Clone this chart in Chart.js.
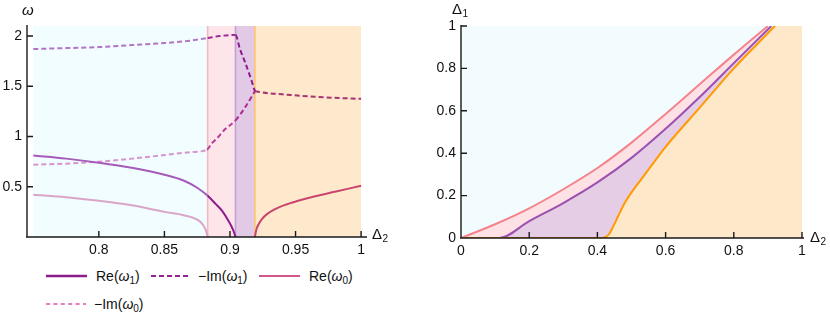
<!DOCTYPE html>
<html>
<head>
<meta charset="utf-8">
<script src="https://cdn.jsdelivr.net/npm/chart.js@4.4.0/dist/chart.umd.min.js"></script>
<style>
    body { margin: 0; background: #fff; width: 830px; height: 321px; overflow: hidden; font-family: 'Liberation Sans', Arial, sans-serif; color: #111; }
    .box { position: absolute; top: 0; width: 415px; height: 262px; }
    .lg-line { position: absolute; width: 42px; height: 6px; }
    .lg-text { position: absolute; font-size: 14px; line-height: 16px; white-space: nowrap; }
    .lg-text sub { font-size: 10px; vertical-align: -3px; line-height: 0; }
</style>
</head>
<body>
<div class="box" style="left:0"><canvas id="leftChart"></canvas></div>
<div class="box" style="left:415px"><canvas id="rightChart"></canvas></div>

<svg class="lg-line" style="left:46px;top:273px"><line x1="0" y1="3" x2="41" y2="3" stroke="#8b1c8b" stroke-width="2.5"/></svg>
<div class="lg-text" style="left:96px;top:268px">Re(<i>ω</i><sub>1</sub>)</div>
<svg class="lg-line" style="left:151px;top:273px"><line x1="0" y1="3" x2="38" y2="3" stroke="#9a2098" stroke-width="2" stroke-dasharray="5 3"/></svg>
<div class="lg-text" style="left:198px;top:268px">−Im(<i>ω</i><sub>1</sub>)</div>
<svg class="lg-line" style="left:259px;top:273px"><line x1="0" y1="3" x2="41" y2="3" stroke="#d3588a" stroke-width="2"/></svg>
<div class="lg-text" style="left:309px;top:268px">Re(<i>ω</i><sub>0</sub>)</div>
<svg class="lg-line" style="left:46px;top:301px"><line x1="0" y1="3" x2="40" y2="3" stroke="#e0559c" stroke-width="1.6" stroke-dasharray="4 3.4"/></svg>
<div class="lg-text" style="left:94px;top:296px">−Im(<i>ω</i><sub>0</sub>)</div>

<script>
// ---- left panel: ω versus Δ2 ----
const bandEdges = [0.75, 0.883, 0.9042, 0.919, 1.0];
const omegaTop = 2.1;

const re1X = [0.75, 0.775, 0.8, 0.825, 0.85, 0.865, 0.875, 0.883, 0.889, 0.894, 0.898, 0.901, 0.903, 0.9042];
const re1Y = [0.81, 0.78, 0.74, 0.69, 0.62, 0.56, 0.49, 0.41, 0.33, 0.26, 0.18, 0.11, 0.05, 0];

const re0X = [0.75, 0.775, 0.8, 0.825, 0.85, 0.862, 0.87, 0.876, 0.8795, 0.8815, 0.883];
const re0Y = [0.42, 0.395, 0.36, 0.315, 0.25, 0.225, 0.2, 0.165, 0.12, 0.07, 0];

const reMixX = [0.919, 0.9197, 0.9205, 0.922, 0.9245, 0.928, 0.934, 0.942, 0.952, 0.965, 0.98, 1.0];
const reMixY = [0, 0.05, 0.09, 0.13, 0.18, 0.225, 0.275, 0.32, 0.36, 0.405, 0.45, 0.51];

const im1X = [0.75, 0.775, 0.8, 0.825, 0.85, 0.87, 0.883, 0.892, 0.9042, 0.9076, 0.9115, 0.9166, 0.919];
const im1Y = [1.87, 1.88, 1.89, 1.91, 1.93, 1.955, 1.98, 2.0, 2.01, 1.87, 1.74, 1.55, 1.45];

const im0X = [0.75, 0.775, 0.8, 0.825, 0.85, 0.87, 0.8825, 0.886, 0.89, 0.896, 0.9042, 0.9115, 0.919];
const im0Y = [0.72, 0.73, 0.75, 0.78, 0.815, 0.845, 0.87, 0.93, 0.98, 1.07, 1.16, 1.29, 1.45];

const imMixX = [0.919, 0.93, 0.94, 0.96, 0.98, 1.0];
const imMixY = [1.45, 1.43, 1.42, 1.40, 1.385, 1.375];

const xTicksL = [0.8, 0.85, 0.9, 0.95, 1];
const xLabelsL = ['0.8', '0.85', '0.9', '0.95', '1'];
const yTicksL = [0.5, 1, 1.5, 2];
const yLabelsL = ['0.5', '1', '1.5', '2'];

// ---- right panel: Δ1 versus Δ2 phase diagram ----
const pinkX = [0, 0.1, 0.2, 0.3, 0.4, 0.5, 0.6, 0.7, 0.8, 0.9];
const pinkY = [0, 0.065, 0.14, 0.23, 0.33, 0.45, 0.585, 0.725, 0.865, 1.0];

const purpleX = [0, 0.112, 0.2, 0.3, 0.4, 0.5, 0.6, 0.7, 0.8, 0.91];
const purpleY = [0, 0, 0.08, 0.165, 0.262, 0.378, 0.515, 0.665, 0.825, 1.0];

const orangeX = [0, 0.41, 0.425, 0.435, 0.445, 0.46, 0.48, 0.5, 0.53, 0.56, 0.6, 0.7, 0.8, 0.92, 1.0];
const orangeY = [0, 0, 0.005, 0.02, 0.05, 0.1, 0.165, 0.215, 0.28, 0.345, 0.43, 0.615, 0.8, 1.0, 1.14];

const xTicksR = [0, 0.2, 0.4, 0.6, 0.8, 1];
const xLabelsR = ['0', '0.2', '0.4', '0.6', '0.8', '1'];
const yTicksR = [0, 0.2, 0.4, 0.6, 0.8, 1];
const yLabelsR = ['0', '0.2', '0.4', '0.6', '0.8', '1'];

Chart.defaults.font.family = "'Liberation Sans', Arial, sans-serif";
Chart.defaults.font.size = 14;
Chart.defaults.color = '#111';

function pts(xs, ys) {
    return xs.map((x, i) => ({ x: x, y: ys[i] }));
}

// which shaded band a given Δ2 falls into
function bandOf(x) {
    let i = 0;
    while (i < bandEdges.length - 2 && x > bandEdges[i + 1]) i++;
    return i;
}

function curve(xs, ys, colors, dashed) {
    return {
        data: pts(xs, ys),
        borderWidth: 2,
        borderDash: dashed ? [5, 3] : [],
        pointRadius: 0,
        fill: false,
        clip: 0,
        cubicInterpolationMode: 'monotone',
        segment: {
            borderColor: c => colors[bandOf((c.p0.parsed.x + c.p1.parsed.x) / 2)]
        },
        borderColor: colors[0]
    };
}

function axesPlugin(cfg) {
    return {
        id: 'axes',
        afterDatasetsDraw(chart) {
            const { ctx, chartArea: a, scales: { x, y } } = chart;
            ctx.save();
            ctx.strokeStyle = '#1a1a1a';
            ctx.lineWidth = 1.4;
            ctx.beginPath();
            ctx.moveTo(a.left - 1, a.bottom);
            ctx.lineTo(a.right + cfg.xOver, a.bottom);
            ctx.moveTo(a.left, a.bottom);
            ctx.lineTo(a.left, a.top - 1);
            cfg.xTicks.forEach(v => {
                const p = x.getPixelForValue(v);
                ctx.moveTo(p, a.bottom);
                ctx.lineTo(p, a.bottom - 6);
            });
            cfg.yTicks.forEach(v => {
                const p = y.getPixelForValue(v);
                ctx.moveTo(a.left, p);
                ctx.lineTo(a.left + 6, p);
            });
            ctx.stroke();

            // axis titles
            ctx.fillStyle = '#111';
            ctx.textBaseline = 'middle';
            cfg.titles.forEach(t => {
                ctx.font = (t.italic ? 'italic ' : '') + "15px 'Liberation Sans', Arial, sans-serif";
                const tx = t.dx + (t.anchor === 'right' ? a.right : a.left);
                const ty = t.anchor === 'right' ? a.bottom + t.dy : t.dy;
                ctx.textAlign = 'left';
                ctx.fillText(t.main, tx, ty);
                if (t.sub) {
                    const w = ctx.measureText(t.main).width;
                    ctx.font = "10px 'Liberation Sans', Arial, sans-serif";
                    ctx.fillText(t.sub, tx + w + 0.5, ty + 4);
                }
            });
            ctx.restore();
        }
    };
}

function options(o) {
    return {
        responsive: true,
        maintainAspectRatio: false,
        animation: false,
        layout: { padding: o.padding },
        plugins: { legend: { display: false }, tooltip: { enabled: false } },
        scales: {
            x: {
                type: 'linear', min: o.xMin, max: o.xMax,
                grid: { display: false, drawTicks: false },
                border: { display: false },
                afterBuildTicks: s => { s.ticks = o.xTicks.map(v => ({ value: v })); },
                afterFit: s => { s.height = 20; },
                ticks: { padding: 5, autoSkip: false, maxRotation: 0, callback: (v, i) => o.xLabels[i] }
            },
            y: {
                type: 'linear', min: o.yMin, max: o.yMax,
                grid: { display: false, drawTicks: false },
                border: { display: false },
                afterBuildTicks: s => { s.ticks = o.yTicks.map(v => ({ value: v })); },
                afterFit: s => { s.width = o.yWidth; },
                ticks: { padding: 5, autoSkip: false, callback: (v, i) => o.yLabels[i] }
            }
        }
    };
}

// left chart
const bandColors = ['#f1fdff', '#fde5ea', '#e2cae6', '#fee9cc'];
const edgeColors = ['#f6b8c0', '#c79fd6', '#ffc46c'];
const leftSets = [
    curve(re1X, re1Y, ['#a65ab9', '#8b1c8b', '#8b1c8b', '#8b1c8b'], false),
    curve(im1X, im1Y, ['#b374c6', '#9a2c98', '#8c1c8a', '#8c1c8a'], true),
    curve(reMixX, reMixY, ['#c8456e', '#c8456e', '#c8456e', '#c8456e'], false),
    curve(imMixX, imMixY, ['#a93272', '#a93272', '#a93272', '#a93272'], true),
    curve(re0X, re0Y, ['#dba4c9', '#c76a9e', '#c76a9e', '#c76a9e'], false),
    curve(im0X, im0Y, ['#d795cd', '#b83a96', '#b02a8c', '#b02a8c'], true)
];
edgeColors.forEach((c, i) => {
    const e = bandEdges[i + 1];
    leftSets.push({ data: pts([e, e], [0, omegaTop]), borderColor: c, borderWidth: 1.6, pointRadius: 0, fill: false, clip: 0, order: 5 });
});
bandColors.forEach((c, i) => {
    leftSets.push({
        data: pts([bandEdges[i], bandEdges[i + 1]], [omegaTop, omegaTop]),
        borderWidth: 0, pointRadius: 0, fill: 'origin', backgroundColor: c, clip: 0, order: 10
    });
});

new Chart(document.getElementById('leftChart'), {
    type: 'line',
    data: { datasets: leftSets },
    options: options({
        padding: { left: 0, top: 26, right: 48, bottom: 5 },
        xMin: 0.7452, xMax: 1.0045, yMin: 0, yMax: omegaTop, yWidth: 27,
        xTicks: xTicksL, xLabels: xLabelsL, yTicks: yTicksL, yLabels: yLabelsL
    }),
    plugins: [axesPlugin({
        xOver: 0, xTicks: xTicksL, yTicks: yTicksL,
        titles: [
            { main: 'ω', italic: true, anchor: 'left', dx: -5, dy: 11 },
            { main: 'Δ', sub: '2', anchor: 'right', dx: 5, dy: -2 }
        ]
    })]
});

// right chart
const rightSets = [
    { data: pts(orangeX, orangeY), borderColor: '#ff9a00', borderWidth: 2, pointRadius: 0, clip: 0,
      cubicInterpolationMode: 'monotone', fill: 'origin', backgroundColor: '#fee8ca' },
    { data: pts(purpleX, purpleY), borderColor: '#9c50b0', borderWidth: 2, pointRadius: 0, clip: 0,
      cubicInterpolationMode: 'monotone', fill: 0, backgroundColor: '#e5cde5' },
    { data: pts(pinkX, pinkY), borderColor: '#f4838b', borderWidth: 2, pointRadius: 0, clip: 0,
      cubicInterpolationMode: 'monotone', fill: 1, backgroundColor: '#fde1e5' },
    { data: pts([0, 1], [1, 1]), borderWidth: 0, pointRadius: 0, clip: 0, fill: 'origin',
      backgroundColor: '#f2fcfe', order: 10 }
];

new Chart(document.getElementById('rightChart'), {
    type: 'line',
    data: { datasets: rightSets },
    options: options({
        padding: { left: 0, top: 26, right: 28, bottom: 4 },
        xMin: 0, xMax: 1, yMin: 0, yMax: 1, yWidth: 46,
        xTicks: xTicksR, xLabels: xLabelsR, yTicks: yTicksR, yLabels: yLabelsR
    }),
    plugins: [axesPlugin({
        xOver: 2, xTicks: xTicksR, yTicks: yTicksR,
        titles: [
            { main: 'Δ', sub: '1', anchor: 'left', dx: -9, dy: 10 },
            { main: 'Δ', sub: '2', anchor: 'right', dx: 8, dy: 0 }
        ]
    })]
});
</script>
</body>
</html>
